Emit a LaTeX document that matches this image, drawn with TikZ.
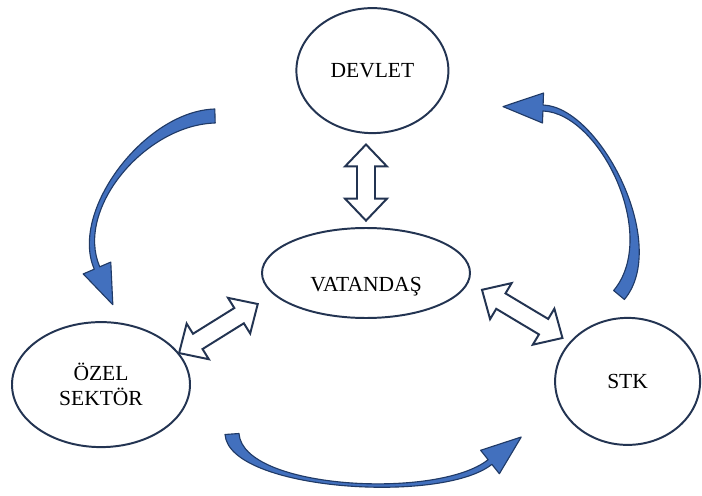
\documentclass[tikz,border=0pt]{standalone}
\usepackage{fontspec}
\setmainfont{Liberation Serif}
\usepackage{tikz}
\usetikzlibrary{shapes.geometric, calc, positioning}
\definecolor{KoyuLacivert}{RGB}{35,52,82}
\definecolor{OkMavi}{RGB}{66,112,190}
\definecolor{OkKenar}{RGB}{32,58,102}

% beyaz, iki uclu blok ok: #1 -> #2, bosluklar #3 ve #4
\newcommand{\ciftok}[4]{%
	\draw[cift] let \p1=($(#2)-(#1)$), \n1={atan2(\y1,\x1)}, \n2={veclen(\x1,\y1)} in
		[shift={(#1)}, rotate=\n1]
		({#3},0) -- ({#3+0.55cm},0.525) -- ({#3+0.55cm},0.225)
		-- ({\n2*1pt-#4-0.55cm},0.225) -- ({\n2*1pt-#4-0.55cm},0.525)
		-- ({\n2*1pt-#4},0)
		-- ({\n2*1pt-#4-0.55cm},-0.525) -- ({\n2*1pt-#4-0.55cm},-0.225)
		-- ({#3+0.55cm},-0.225) -- ({#3+0.55cm},-0.525) -- cycle;}

% incelen kavisli mavi ok, kontrol noktalari #1..#4
\newcommand{\kavisliok}[4]{%
	\draw[kavis] ($(#1)!0.175cm!90:(#2)$)
		.. controls ($(#2)!0.175cm!-90:(#1)$) and ($(#3)!0.075cm!90:(#4)$)
		.. ($(#4)!0.075cm!-90:(#3)$)
		-- ($(#4)!0.375cm!-90:(#3)$) -- ($(#4)!-1cm!(#3)$)
		-- ($(#4)!0.375cm!90:(#3)$) -- ($(#4)!0.075cm!90:(#3)$)
		.. controls ($(#3)!0.075cm!-90:(#4)$) and ($(#2)!0.175cm!90:(#1)$)
		.. ($(#1)!0.175cm!-90:(#2)$) -- cycle;}

\begin{document}
\begin{tikzpicture}[font=\fontsize{15.3}{17.8}\selectfont,
	halka/.style={ellipse, draw=KoyuLacivert, line width=1.4pt,
		inner sep=0pt, align=center},
	cift/.style={draw=KoyuLacivert, fill=white, line width=1.4pt},
	kavis/.style={draw=OkKenar, fill=OkMavi, line width=0.8pt, line join=round}]

	\useasboundingbox (0,0) rectangle (17.55,12.375);

	\node[halka, minimum width=3.8cm, minimum height=3.125cm]
		(devlet) at (9.31,10.61) {DEVLET};
	\node[halka, minimum width=5.2cm, minimum height=2.25cm,
		text height=0.925cm, text depth=0pt]
		(vatandas) at (9.15,5.55) {VATANDAŞ};
	\node[halka, minimum width=4.45cm, minimum height=3.125cm]
		(ozel) at (2.525,2.76) {ÖZEL\\SEKTÖR};
	\node[halka, minimum width=3.625cm, minimum height=3.175cm]
		(stk) at (15.69,2.84) {STK};

	\ciftok{vatandas.north}{vatandas.north |- devlet.south}{0.16cm}{0.26cm}
	\ciftok{ozel.22}{vatandas.193}{0cm}{0.45cm}
	\ciftok{vatandas.355}{stk.146}{0.38cm}{0.2cm}

	% devlet -> ozel sektor
	\coordinate (sol0) at (5.375,9.475);
	\coordinate (sol1) at (3.625,9.425);
	\coordinate (sol2) at (1.8,7.125);
	\coordinate (sol3) at (2.425,5.675);
	% ozel sektor -> stk
	\coordinate (alt0) at (5.8,1.525);
	\coordinate (alt1) at (5.9,0.125);
	\coordinate (alt2) at (11.0,-0.175);
	\coordinate (alt3) at (12.25,0.825);
	% stk -> devlet
	\coordinate (sag0) at (15.475,5.0);
	\coordinate (sag1) at (16.625,6.375);
	\coordinate (sag2) at (15.0,9.625);
	\coordinate (sag3) at (13.575,9.675);

	\kavisliok{sol0}{sol1}{sol2}{sol3}
	\kavisliok{alt0}{alt1}{alt2}{alt3}
	\kavisliok{sag0}{sag1}{sag2}{sag3}
\end{tikzpicture}
\end{document}
